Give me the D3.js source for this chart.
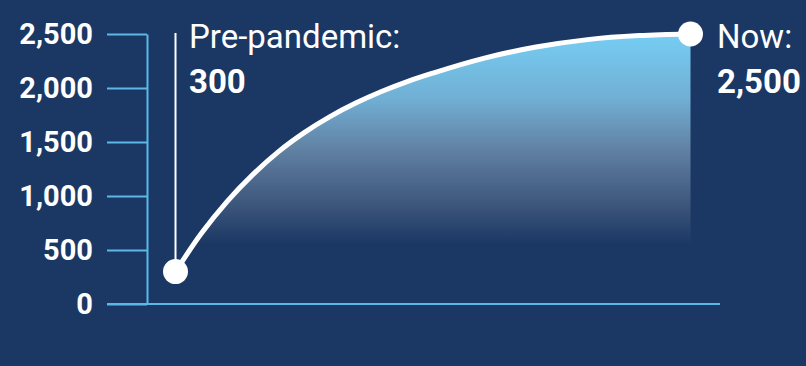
<!DOCTYPE html>
<html>
<head>
<meta charset="utf-8">
<script src="https://cdn.jsdelivr.net/npm/d3@7"></script>
<style>
  html, body { margin: 0; padding: 0; background: #1b3864; overflow: hidden; }
  svg { display: block; font-family: Roboto, "Noto Sans", sans-serif; }
</style>
</head>
<body>
<svg id="chart" width="806" height="366"></svg>
<script>
// Position along the period (0 = pre-pandemic, 100 = now)
const period = [0, 5, 10, 15, 20, 25, 30, 35, 40, 45, 50, 60, 70, 80, 90, 100];
// Count at each position
const counts = [300, 652, 948, 1198, 1411, 1587, 1735, 1860, 1967, 2059, 2138, 2277, 2379, 2448, 2485, 2500];
// Y axis tick values
const yTicks = [0, 500, 1000, 1500, 2000, 2500];
// Callout labels
const startLabel = "Pre-pandemic:";
const endLabel = "Now:";

const W = 806, H = 366;
const svg = d3.select("#chart");

svg.append("rect").attr("width", W).attr("height", H).attr("fill", "#1b3864");

const x = d3.scaleLinear().domain([0, 100]).range([175.5, 690.5]);
const y = d3.scaleLinear().domain([0, 2500]).range([304, 34]);

const axisColor = "#5ab9e6";
const fmt = d3.format(",");

// Gradient under the curve
const defs = svg.append("defs");
const grad = defs.append("linearGradient")
  .attr("id", "areaFill")
  .attr("gradientUnits", "userSpaceOnUse")
  .attr("x1", 0).attr("x2", 0)
  .attr("y1", y(2500)).attr("y2", 250);
[
  [0.00, "#76cdf3"],
  [0.30, "#71afd4"],
  [0.54, "#6080a2"],
  [0.77, "#40597f"],
  [0.97, "#1b3864"],
  [1.00, "#1b3864"]
].forEach(([o, c]) => grad.append("stop").attr("offset", o).attr("stop-color", c));

const pts = period.map((p, i) => ({ p, v: counts[i] }));

const area = d3.area()
  .x(d => x(d.p))
  .y0(y(0))
  .y1(d => y(d.v))
  .curve(d3.curveMonotoneX);

const line = d3.line()
  .x(d => x(d.p))
  .y(d => y(d.v))
  .curve(d3.curveMonotoneX);

svg.append("path")
  .datum(pts)
  .attr("d", area)
  .attr("fill", "url(#areaFill)");

// Y axis
const yAxis = d3.axisLeft(y)
  .tickValues(yTicks)
  .tickFormat(fmt)
  .tickSize(40)
  .tickSizeOuter(0)
  .tickPadding(14);

const gy = svg.append("g")
  .attr("transform", "translate(147,0)")
  .call(yAxis);
gy.select(".domain").attr("stroke", axisColor).attr("stroke-width", 2);
gy.selectAll(".tick line").attr("stroke", axisColor).attr("stroke-width", 2);
gy.selectAll(".tick text")
  .attr("fill", "#ffffff")
  .attr("font-size", 29)
  .attr("font-weight", 700)
  .attr("font-family", "Roboto, sans-serif");

// Baseline
svg.append("line")
  .attr("x1", 107).attr("x2", 720)
  .attr("y1", y(0)).attr("y2", y(0))
  .attr("stroke", axisColor).attr("stroke-width", 2);

// Leader line from the starting point up to its label
const first = pts[0], last = pts[pts.length - 1];
svg.append("line")
  .attr("x1", x(first.p)).attr("x2", x(first.p))
  .attr("y1", 33).attr("y2", y(first.v))
  .attr("stroke", "#ffffff").attr("stroke-width", 2);

// Curve
svg.append("path")
  .datum(pts)
  .attr("d", line)
  .attr("fill", "none")
  .attr("stroke", "#ffffff")
  .attr("stroke-width", 5)
  .attr("stroke-linecap", "round");

// End-point markers
svg.selectAll("circle.end")
  .data([first, last])
  .join("circle")
  .attr("class", "end")
  .attr("cx", d => x(d.p))
  .attr("cy", d => y(d.v))
  .attr("r", 12.5)
  .attr("fill", "#ffffff");

// Callouts
function callout(xPos, title, value) {
  const g = svg.append("g").attr("fill", "#ffffff").attr("font-family", "Roboto, sans-serif");
  g.append("text").attr("x", xPos).attr("y", 48)
    .attr("font-size", 33).attr("font-weight", 400).text(title);
  g.append("text").attr("x", xPos).attr("y", 93)
    .attr("font-size", 33).attr("font-weight", 700).text(fmt(value));
}
callout(189, startLabel, first.v);
callout(717, endLabel, last.v);
</script>
</body>
</html>
